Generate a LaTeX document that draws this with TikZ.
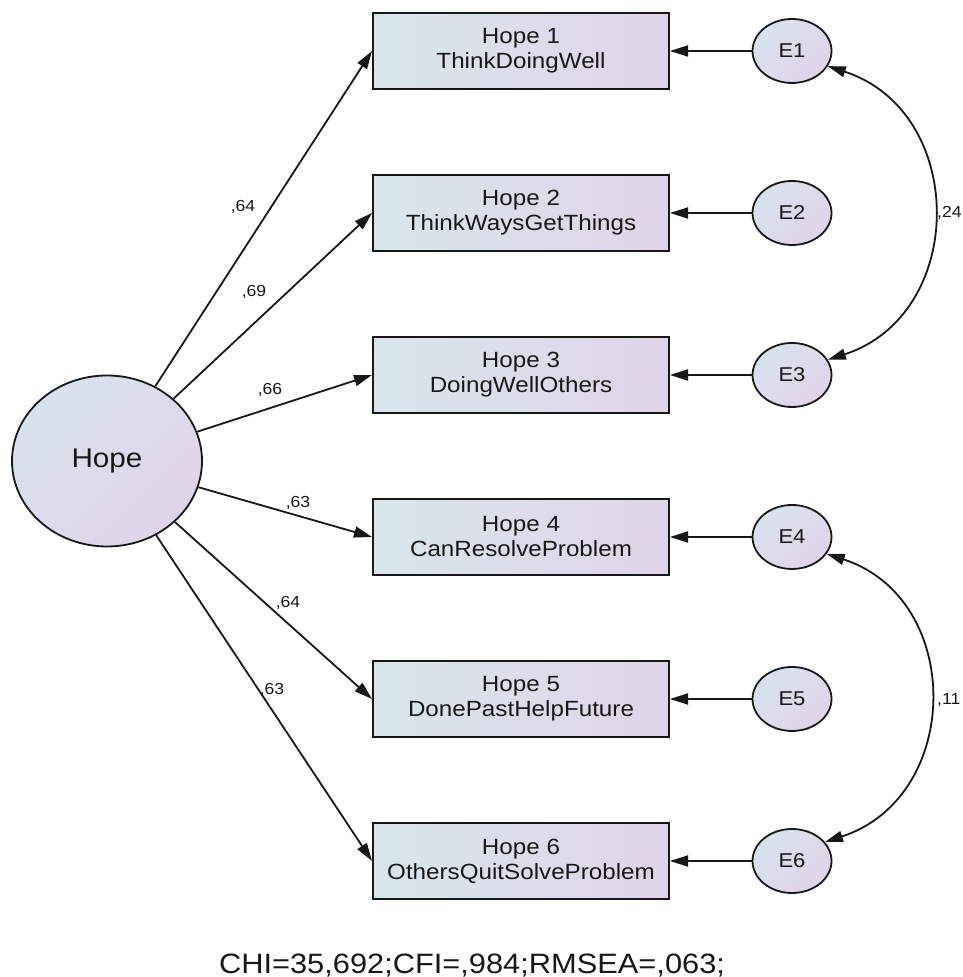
\documentclass[tikz,border=0pt]{standalone}
\usepackage{fontspec}
\setmainfont{Liberation Sans}[FakeStretch=1.1]
\usetikzlibrary{shapes.geometric,arrows.meta}
\definecolor{boxL}{RGB}{216,230,236}
\definecolor{boxR}{RGB}{224,212,234}
\definecolor{ellL}{RGB}{216,226,238}
\definecolor{ellR}{RGB}{224,212,234}
\definecolor{ink}{RGB}{24,24,24}
\begin{document}
\begin{tikzpicture}[x=1pt,y=1pt,
  obs/.style={draw=ink, line width=2pt, rectangle, minimum width=296pt, minimum height=76pt, inner sep=0pt, left color=boxL, right color=boxR, align=center, text=ink, font=\fontsize{22}{25}\selectfont},
  err/.style={draw=ink, line width=1.8pt, ellipse, minimum width=79pt, minimum height=64pt, inner sep=0pt, left color=ellL, right color=ellR, shading angle=45, text=ink, font=\fontsize{20}{24}\selectfont},
  lat/.style={draw=ink, line width=1.8pt, ellipse, minimum width=190pt, minimum height=171pt, inner sep=0pt, left color=ellL, right color=ellR, shading angle=45, text=ink, font=\fontsize{27}{30}\selectfont},
  load/.style={draw=ink, line width=1.8pt, -{Triangle[length=18pt,width=11pt]}},
  cov/.style={draw=ink, line width=1.8pt, {Triangle[length=18pt,width=11pt]}-{Triangle[length=18pt,width=11pt]}},
  lbl/.style={text=ink, font=\fontsize{16}{18}\selectfont, inner sep=0pt}
]
\fill[white] (0,0) rectangle (962,977);
\useasboundingbox (0,0) rectangle (962,977);

\node[lat] (hope) at (107,516) {Hope};

\node[obs] (b1) at (521,926) {Hope 1\\ThinkDoingWell};
\node[obs] (b2) at (521,764) {Hope 2\\ThinkWaysGetThings};
\node[obs] (b3) at (521,602) {Hope 3\\DoingWellOthers};
\node[obs] (b4) at (521,440) {Hope 4\\CanResolveProblem};
\node[obs] (b5) at (521,278) {Hope 5\\DonePastHelpFuture};
\node[obs] (b6) at (521,116) {Hope 6\\OthersQuitSolveProblem};

\node[err] (e1) at (792,926) {E1};
\node[err] (e2) at (792,764) {E2};
\node[err] (e3) at (792,602) {E3};
\node[err] (e4) at (792,440) {E4};
\node[err] (e5) at (792,278) {E5};
\node[err] (e6) at (792,116) {E6};

\draw[load] (hope) -- (b1.west);
\draw[load] (hope) -- (b2.west);
\draw[load] (hope) -- (b3.west);
\draw[load] (hope) -- (b4.west);
\draw[load] (hope) -- (b5.west);
\draw[load] (hope) -- (b6.west);

\draw[load] (e1.west) -- (b1.east);
\draw[load] (e2.west) -- (b2.east);
\draw[load] (e3.west) -- (b3.east);
\draw[load] (e4.west) -- (b4.east);
\draw[load] (e5.west) -- (b5.east);
\draw[load] (e6.west) -- (b6.east);

\draw[cov] (e1.-23) .. controls +(-18:147) and +(18:147) .. (e3.23);
\draw[cov] (e4.-26) .. controls +(-18:145) and +(18:145) .. (e6.30);

\node[lbl] (l1) at (243,770) {,64};
\node[lbl] (l2) at (254,685) {,69};
\node[lbl] (l3) at (270,587) {,66};
\node[lbl] (l4) at (298,474) {,63};
\node[lbl] (l5) at (288,374) {,64};
\node[lbl] (l6) at (272,287) {,63};
\node[lbl, anchor=west] (l7) at (937,764) {,24};
\node[lbl, anchor=west] (l8) at (937,277) {,11};

\node[text=ink, font=\fontsize{28}{30}\selectfont, anchor=base, inner sep=0pt] (fit) at (472,4) {CHI=35,692;CFI=,984;RMSEA=,063;};
\end{tikzpicture}
\end{document}
